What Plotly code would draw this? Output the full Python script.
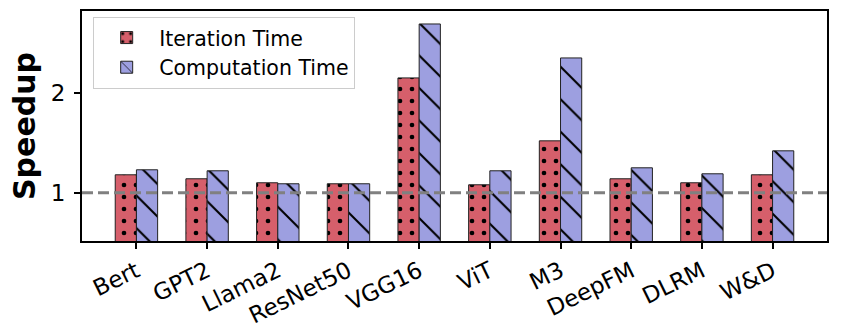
import plotly.graph_objects as go

categories = ["Bert", "GPT2", "Llama2", "ResNet50", "VGG16", "ViT", "M3", "DeepFM", "DLRM", "W&D"]
iteration_time = [1.18, 1.14, 1.10, 1.09, 2.15, 1.08, 1.52, 1.14, 1.10, 1.18]
computation_time = [1.23, 1.22, 1.09, 1.09, 2.69, 1.22, 2.35, 1.25, 1.19, 1.42]
baseline = 1.0
ytick_vals = [1, 2]

RED = "#d65f6b"
BLUE = "#9d9fe0"
FONT = "DejaVu Sans"

fig = go.Figure()
fig.add_trace(go.Bar(
    x=list(range(len(categories))), y=iteration_time, name="Iteration Time",
    marker=dict(color=RED, line=dict(color="#222222", width=1),
                pattern=dict(shape=".", size=12, solidity=0.12, fgcolor="black",
                             fgopacity=1, fillmode="overlay")),
))
fig.add_trace(go.Bar(
    x=list(range(len(categories))), y=computation_time, name="Computation Time",
    marker=dict(color=BLUE, line=dict(color="#222222", width=1),
                pattern=dict(shape="\\", size=23, solidity=0.09, fgcolor="black",
                             fgopacity=1, fillmode="overlay")),
))

fig.add_shape(type="line", xref="paper", x0=0, x1=1, yref="y", y0=baseline, y1=baseline,
              line=dict(color="#808080", width=3, dash="11px,5px"), layer="above")

fig.update_layout(
    width=844, height=334,
    margin=dict(l=82, r=17, t=11, b=93),
    plot_bgcolor="white", paper_bgcolor="white",
    barmode="group", bargap=0.4, bargroupgap=0,
    font=dict(family=FONT, size=20, color="black"),
    showlegend=True,
    legend=dict(x=0.015, y=0.975, xanchor="left", yanchor="top",
                bgcolor="rgba(255,255,255,0.8)", bordercolor="#cccccc", borderwidth=1,
                font=dict(family=FONT, size=20.5), itemwidth=55, tracegroupgap=0),
)
fig.update_xaxes(
    range=[-0.77, len(categories) - 1 + 0.77], automargin=False,
    tickmode="array", tickvals=list(range(len(categories))), ticktext=categories,
    tickangle=-26, ticks="outside", ticklen=6, tickwidth=2, tickcolor="black",
    showline=True, linecolor="black", linewidth=2, mirror=True, showgrid=False,
    tickfont=dict(family=FONT, size=23),
)
fig.update_yaxes(
    range=[0.517, 2.82], tickmode="array", tickvals=ytick_vals, ticktext=[str(v) for v in ytick_vals],
    automargin=False, ticklabelstandoff=4,
    ticks="outside", ticklen=6, tickwidth=2, tickcolor="black",
    showline=True, linecolor="black", linewidth=2, mirror=True, showgrid=False, zeroline=False,
    tickfont=dict(family=FONT, size=23),
    title=dict(text="<b>Speedup</b>", font=dict(family=FONT, size=30), standoff=6),
)
fig.write_html("out.html")
